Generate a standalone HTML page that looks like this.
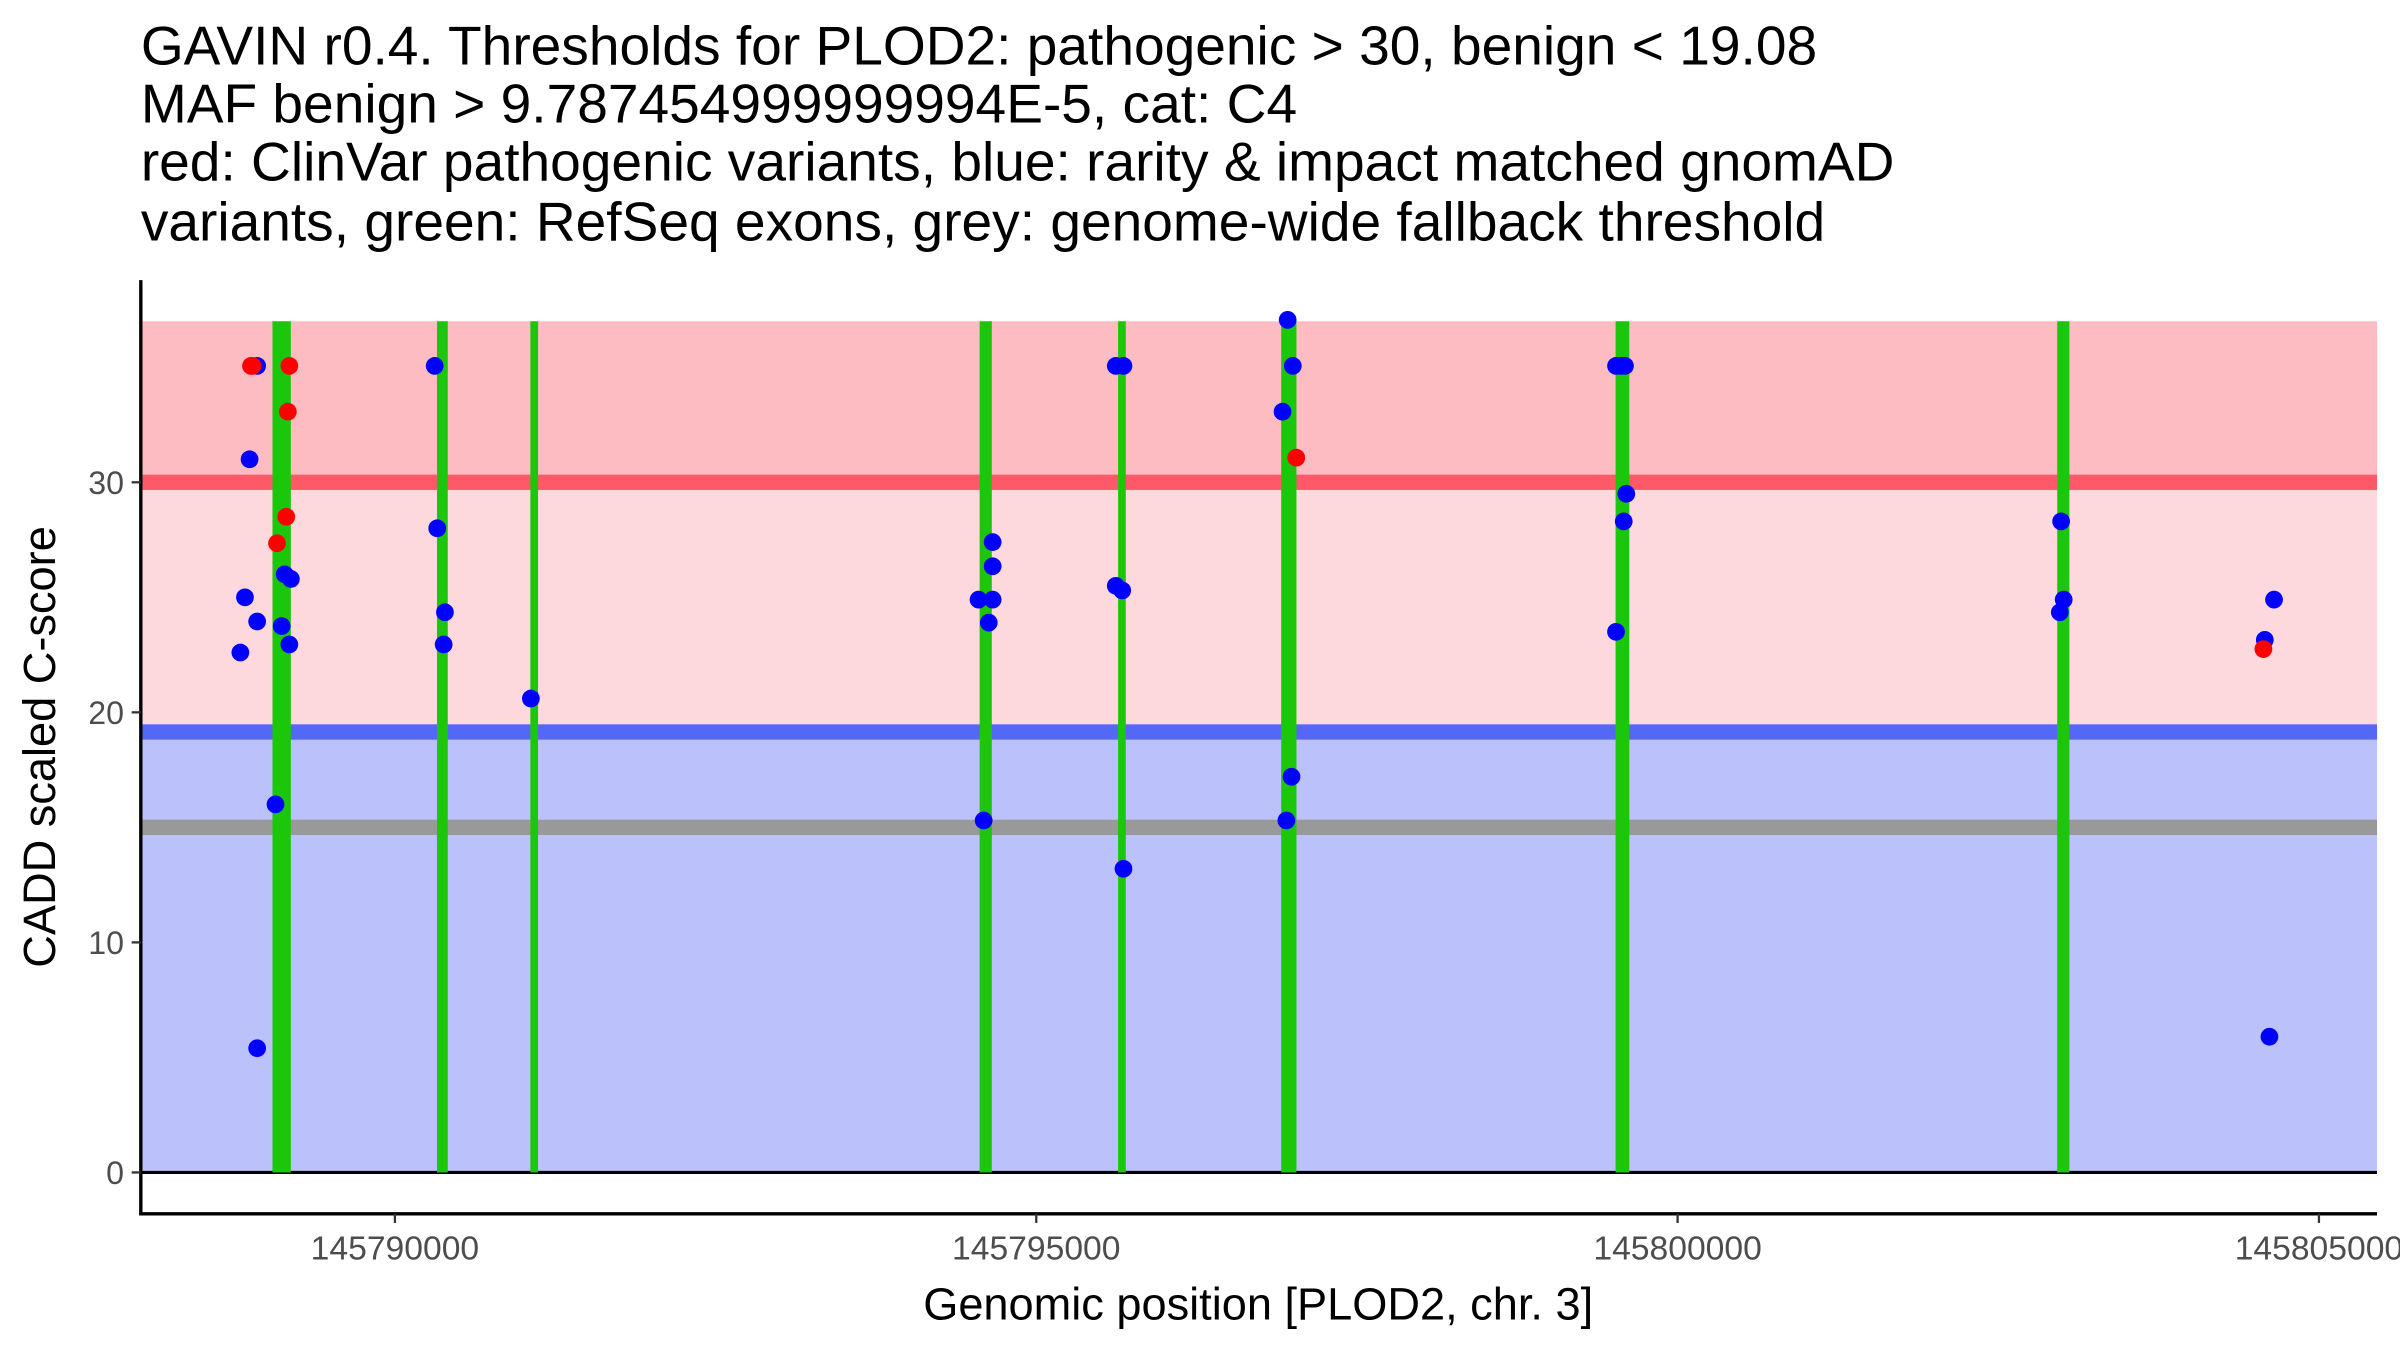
<!DOCTYPE html>
<html><head><meta charset="utf-8"><style>
html,body{margin:0;padding:0;background:#fff;}
svg{display:block;font-family:"Liberation Sans",Arial,sans-serif;}
</style></head><body>
<svg id="chart" width="2400" height="1350" viewBox="0 0 1568 882" preserveAspectRatio="none">
<g font-size="36" fill="#000">
<text x="92" y="42">GAVIN r0.4. Thresholds for PLOD2: pathogenic &gt; 30, benign &lt; 19.08</text>
<text x="92" y="80">MAF benign &gt; 9.787454999999994E-5, cat: C4</text>
<text x="92" y="118">red: ClinVar pathogenic variants, blue: rarity &amp; impact matched gnomAD</text>
<text x="92" y="157">variants, green: RefSeq exons, grey: genome-wide fallback threshold</text>
</g>
<g id="bands"></g>
<g id="exons"></g>
<g id="points"></g>
<g id="axes"></g>
<text x="822" y="862" font-size="29.5" text-anchor="middle">Genomic position [PLOD2, chr. 3]</text>
<text transform="translate(36,488) rotate(-90)" font-size="29.5" text-anchor="middle">CADD scaled C-score</text>
</svg>
<script>
const xTicks = [145790000, 145795000, 145800000, 145805000];
const yTicks = [0, 10, 20, 30];
const thresholds = {pathogenic: 30, benign: 19.08, fallback: 15, top: 37};
const exonStart = [145789117, 145790370, 145791086, 145794606, 145795668, 145796969, 145799570, 145803007];
const exonWidth = [143, 84, 60, 95, 60, 119, 107, 95];
const redPos = [145788878, 145788890, 145789177, 145789165, 145789153, 145789081, 145797027, 145804567];
const redScore = [35.06, 35.06, 35.06, 33.07, 28.5, 27.35, 31.07, 22.75];
const bluePos = [145788926, 145788867, 145788831, 145788926, 145788795, 145789141, 145789189, 145789117, 145789177, 145789069, 145788926,
 145790310, 145790330, 145790390, 145790380, 145791060,
 145794590, 145794660, 145794660, 145794550, 145794660, 145794630,
 145795620, 145795680, 145795620, 145795670, 145795680,
 145796960, 145797000, 145796920, 145796990, 145796950,
 145799520, 145799590, 145799560, 145799600, 145799580, 145799520,
 145802990, 145803010, 145802980,
 145804578, 145804650, 145804614];
const blueScore = [35.06, 31.0, 25.0, 23.95, 22.6, 26.0, 25.8, 23.75, 22.95, 16.0, 5.4,
 35.06, 28.0, 24.35, 22.95, 20.6,
 15.3, 27.4, 26.35, 24.9, 24.9, 23.9,
 35.06, 35.06, 25.5, 25.3, 13.2,
 37.06, 35.06, 33.07, 17.2, 15.3,
 35.06, 35.06, 35.06, 29.5, 28.3, 23.5,
 28.3, 24.9, 24.35,
 23.15, 24.9, 5.9];

const X0 = 92, X1 = 1553;
const bp0 = 145788019, bp1 = 145805453;
const xs = v => X0 + (v - bp0) / (bp1 - bp0) * (X1 - X0);
const ys = v => 766 - v * 15.03;
const NS = 'http://www.w3.org/2000/svg';
function mk(parent, tag, attrs) {
  const e = document.createElementNS(NS, tag);
  for (const k in attrs) e.setAttribute(k, attrs[k]);
  document.getElementById(parent).appendChild(e);
  return e;
}
let e;
e = mk('bands', 'rect', {x: X0, y: ys(thresholds.top), width: X1 - X0, height: ys(thresholds.pathogenic) - ys(thresholds.top), fill: '#fdbcc1'});


e = mk('bands', 'rect', {x: X0, y: ys(thresholds.pathogenic), width: X1 - X0, height: ys(thresholds.benign) - ys(thresholds.pathogenic), fill: '#fdd8dc'});


e = mk('bands', 'rect', {x: X0, y: ys(thresholds.benign), width: X1 - X0, height: ys(0) - ys(thresholds.benign), fill: '#bbc1fa'});


e = mk('bands', 'rect', {x: X0, y: ys(thresholds.pathogenic) - 5, width: X1 - X0, height: 10, fill: '#fd5968'});


e = mk('bands', 'rect', {x: X0, y: ys(thresholds.benign) - 6, width: X1 - X0, height: 10, fill: '#5468f5'});


e = mk('bands', 'rect', {x: X0, y: ys(thresholds.fallback) - 5, width: X1 - X0, height: 10, fill: '#999999'});


e = mk('bands', 'line', {x1: X0, x2: X1, y1: ys(0), y2: ys(0), stroke: '#000', 'stroke-width': 2});



exonStart.forEach((s, i) => {
  const a = xs(s - exonWidth[i] / 2), b = xs(s + exonWidth[i] / 2);
  const r = mk('exons', 'rect', {x: a, y: ys(thresholds.top), width: b - a, height: ys(0) - ys(thresholds.top), fill: '#1cc60a'});
  
  
});
bluePos.forEach((p, i) => {
  const c = mk('points', 'circle', {cx: xs(p), cy: ys(blueScore[i]), r: 5.8, fill: '#0000ff'});
  
  
});
redPos.forEach((p, i) => {
  const c = mk('points', 'circle', {cx: xs(p), cy: ys(redScore[i]), r: 5.8, fill: '#ff0000'});
  
  
});

e = mk('axes', 'line', {x1: X0, x2: X0, y1: 183, y2: 794, stroke: '#000', 'stroke-width': 2.2});


e = mk('axes', 'line', {x1: X0 - 1, x2: X1, y1: 793, y2: 793, stroke: '#000', 'stroke-width': 2.2});


yTicks.forEach(t => {
  const l = mk('axes', 'line', {x1: X0 - 6, x2: X0, y1: ys(t), y2: ys(t), stroke: '#333', 'stroke-width': 1.5});
  
  
  const tx = mk('axes', 'text', {x: X0 - 11, y: ys(t) + 7.5, 'font-size': 21, fill: '#4d4d4d', 'text-anchor': 'end'});
  tx.textContent = t;
  
  
});
xTicks.forEach(t => {
  const l = mk('axes', 'line', {x1: xs(t), x2: xs(t), y1: 793, y2: 799, stroke: '#333', 'stroke-width': 1.5});
  
  
  const tx = mk('axes', 'text', {x: xs(t), y: 823, 'font-size': 22, fill: '#4d4d4d', 'text-anchor': 'middle'});
  tx.textContent = t;
  
  
});
</script>
</body></html>
